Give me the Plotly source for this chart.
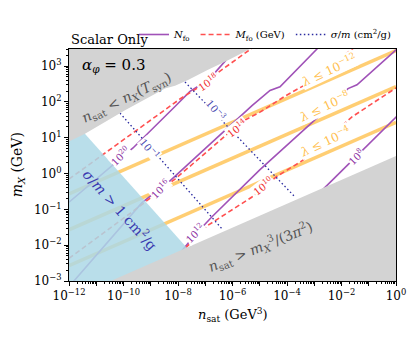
import numpy as np
import plotly.graph_objects as go

# ---------------- data: log10 n_sat [GeV^3], log10 m_X [GeV] ----------------
# lambda bounds (orange)
lam_logn = [-12.0, 0.0]
lam12_logm = [-0.57, 3.43]
lam8_logm = [-1.57, 2.43]
lam4_logm = [-2.57, 1.43]

# N_fo contours (purple, solid)
N20_logn = [-12.0, -10.385, -9.651, -8.110, -7.560, -7.009, -6.642, -5.725]
N20_logm = [-0.80, 0.240, 0.714, 1.872, 2.293, 2.556, 2.819, 3.608]
N16_logn = [-11.9, -9.321, -8.294, -5.982, -5.284, -4.624, -4.257, -2.899, -2.716]
N16_logm = [-3.07, -0.812, -0.207, 1.424, 1.898, 2.319, 2.424, 3.477, 3.609]
N12_logn = [-8.110, -7.376, -6.752, -4.991, -3.046, -1.761, -1.431, -0.037, 0.04]
N12_logm = [-2.391, -1.707, -1.207, 0.109, 1.451, 2.372, 2.477, 3.424, 3.48]
N8_logn = [-2.716, -1.321, 0.147]
N8_logm = [-0.470, 0.582, 1.687]

# M_fo contours (red, dashed)
M18_logn = [-12.0, -7.927, -7.266, -6.532, -5.284]
M18_logm = [-0.155, 2.082, 2.398, 2.819, 3.503]
M14_logn = [-12.0, -9.688, -8.110, -6.092, -5.651, -4.991, -4.073, -3.339, -1.578, -1.468]
M14_logm = [-2.365, -1.076, -0.155, 1.161, 1.451, 1.714, 2.161, 2.477, 3.477, 3.556]
M10_logn = [-7.927, -6.899, -5.284, -4.367, -3.413, -1.615, -0.037, 0.147]
M10_logm = [-2.234, -1.444, -0.655, -0.076, 0.372, 1.582, 2.372, 2.451]

# sigma/m contours (blue, dotted)
S3_logn = [-7.743, -3.706]
S3_logm = [2.556, -0.655]
S1_logn = [-10.128, -6.349]
S1_logm = [1.688, -1.576]

# region boundaries
syn_logn = [-12.0, -11.413, -9.945, -8.477, -8.110, -7.633, -6.899, -6.165, -5.431, -5.36]
syn_logm = [0.898, 1.109, 1.766, 2.372, 2.451, 2.609, 2.898, 3.161, 3.451, 3.477]
sig1_logn = [-12.0, -7.2]
sig1_logm = [1.609, -2.48]
sat_logn = [-12.0, 0.0]
sat_logm = [-3.51, 0.49]

x_ticks = list(range(-12, 1))
y_ticks = list(range(-3, 4))

SERIF = "DejaVu Serif"
PURPLE = "#a052b8"
RED = "#ff5050"
DBLUE = "#2a2aa0"
ORANGE = "rgba(255,165,0,0.55)"


def P(a):
    return 10 ** np.asarray(a, dtype=float)


fig = go.Figure()

# orange lambda lines
for lm in (lam12_logm, lam8_logm, lam4_logm):
    fig.add_trace(go.Scatter(x=P(lam_logn), y=P(lm), mode="lines",
                             line=dict(color=ORANGE, width=3.5),
                             showlegend=False, hoverinfo="skip"))

# N_fo
for i, (xn, ym) in enumerate([(N20_logn, N20_logm), (N16_logn, N16_logm),
                              (N12_logn, N12_logm), (N8_logn, N8_logm)]):
    fig.add_trace(go.Scatter(x=P(xn), y=P(ym), mode="lines",
                             line=dict(color=PURPLE, width=1.6),
                             name="<i>N</i><sub>fo</sub>", legendgroup="N",
                             showlegend=(i == 0)))
# M_fo
for i, (xn, ym) in enumerate([(M18_logn, M18_logm), (M14_logn, M14_logm),
                              (M10_logn, M10_logm)]):
    fig.add_trace(go.Scatter(x=P(xn), y=P(ym), mode="lines",
                             line=dict(color=RED, width=1.6, dash="5px,3px"),
                             name="<i>M</i><sub>fo</sub> (GeV)", legendgroup="M",
                             showlegend=(i == 0)))
# sigma/m
for i, (xn, ym) in enumerate([(S3_logn, S3_logm), (S1_logn, S1_logm)]):
    fig.add_trace(go.Scatter(x=P(xn), y=P(ym), mode="lines",
                             line=dict(color=DBLUE, width=1.3, dash="1.5px,2.5px"),
                             name="<i>σ</i>/<i>m</i> (cm<sup>2</sup>/g)", legendgroup="S",
                             showlegend=(i == 0)))

# blue region sigma/m > 1
bx = list(sig1_logn) + [sig1_logn[-1], sig1_logn[0]]
by = list(sig1_logm) + [-4.0, -4.0]
fig.add_trace(go.Scatter(x=P(bx), y=P(by), mode="lines", fill="toself",
                         fillcolor="rgba(173,216,230,0.85)", line=dict(width=0),
                         showlegend=False, hoverinfo="skip"))

# upper grey region
gx = list(syn_logn) + [-5.0, -12.5, -12.5]
gy = list(syn_logm) + [3.8, 3.8, 0.7]
fig.add_trace(go.Scatter(x=P(gx), y=P(gy), mode="lines", fill="toself",
                         fillcolor="#d3d3d3", line=dict(width=0),
                         showlegend=False, hoverinfo="skip"))
# lower grey region
lx = list(sat_logn) + [0.5, 0.5, sat_logn[0]]
ly = list(sat_logm) + [sat_logm[1], -4.5, -4.5]
fig.add_trace(go.Scatter(x=P(lx), y=P(ly), mode="lines", fill="toself",
                         fillcolor="#d3d3d3", line=dict(width=0),
                         showlegend=False, hoverinfo="skip"))

ann = []


def label(text, lx, ly, angle, color, size, bg=None, xanchor="center"):
    d = dict(x=lx, y=ly, xref="x", yref="y", text=text, showarrow=False,
             textangle=angle, font=dict(family=SERIF, size=size, color=color),
             xanchor=xanchor, yanchor="middle")
    if bg:
        d.update(bgcolor=bg, borderpad=0)
    ann.append(d)


label("10<sup>20</sup>", -10.128, 0.503, -45, "#8a2ca0", 10, "white")
label("10<sup>16</sup>", -8.661, -0.418, -45, "#8a2ca0", 10, "white")
label("10<sup>12</sup>", -7.376, -1.655, -45, "#8a2ca0", 10, "white")
label("10<sup>8</sup>", -1.468, 0.451, -45, "#8a2ca0", 10, "white")
label("10<sup>18</sup>", -6.899, 2.556, -35, "#f03030", 10, "white")
label("10<sup>14</sup>", -5.835, 1.266, -38, "#f03030", 10, "white")
label("10<sup>10</sup>", -4.881, -0.339, -38, "#f03030", 10, "white")
label("10<sup>−3</sup>", -6.606, 1.766, 50, "#4848b0", 10, "white")
label("10<sup>−1</sup>", -9.028, 0.688, 50, "#4848b0", 10, "white")
label("<i>λ</i> ≤ 10<sup>−12</sup>", -2.495, 2.898, -25, "#ffbf50", 12, "white")
label("<i>λ</i> ≤ 10<sup>−8</sup>", -2.642, 1.898, -25, "#ffbf50", 12, "white")
label("<i>λ</i> ≤ 10<sup>−4</sup>", -2.606, 0.898, -25, "#ffbf50", 12, "white")
label("<i>α</i><sub><i>φ</i></sub> = 0.3", -11.596, 3.003, 0, "black", 15, xanchor="left")
label("<i>n</i><sub>sat</sub> < <i>n</i><sub><i>X</i></sub>(<i>T</i><sub>syn</sub>)",
      -9.872, 2.109, -26, "#555555", 14)
label("<i>n</i><sub>sat</sub> > <i>m</i><sub><i>X</i></sub><sup>3</sup>/(3<i>π</i><sup>2</sup>)",
      -4.991, -2.049, -22, "#555555", 14)
label("<i>σ</i>/<i>m</i> > 1 cm<sup>2</sup>/g", -10.128, -0.997, 48, "#3a3ab0", 14)

ann.append(dict(x=0, y=1.04, xref="paper", yref="paper", xanchor="left", yanchor="middle",
                text="Scalar Only", showarrow=False,
                font=dict(family=SERIF, size=13, color="black")))
ann.append(dict(x=0.5, y=-0.146, xref="paper", yref="paper", xanchor="center", yanchor="middle",
                text="<i>n</i><sub>sat</sub> (GeV<sup>3</sup>)", showarrow=False,
                font=dict(family=SERIF, size=13, color="black")))
ann.append(dict(x=-0.155, y=0.5, xref="paper", yref="paper", xanchor="center", yanchor="middle",
                text="<i>m</i><sub><i>X</i></sub> (GeV)", showarrow=False, textangle=-90,
                font=dict(family=SERIF, size=14, color="black")))


def minor_vals(lo, hi):
    return [k * 10.0 ** d for d in range(lo, hi) for k in range(2, 10)]


def sup(k):
    return "10<sup>" + (str(k).replace("-", "−")) + "</sup>"


# the page body has an 8px default margin: shrink the figure to compensate
fig.update_layout(
    width=409, height=329,
    margin=dict(l=61, r=21, t=27, b=56),
    paper_bgcolor="white", plot_bgcolor="white",
    font=dict(family=SERIF, size=12, color="black"),
    annotations=ann,
    showlegend=True,
    legend=dict(orientation="h", x=1.0, xanchor="right", y=1.0, yanchor="bottom",
                font=dict(family=SERIF, size=10), bgcolor="rgba(0,0,0,0)",
                itemwidth=30, tracegroupgap=0),
    xaxis=dict(type="log", range=[-12, 0], showgrid=False, zeroline=False,
               showline=True, linecolor="black", linewidth=1, mirror=True,
               ticks="outside", ticklen=4, tickcolor="black",
               tickvals=[10.0 ** k for k in x_ticks],
               ticktext=[sup(k) if k % 2 == 0 else "" for k in x_ticks],
               tickfont=dict(family=SERIF, size=12),
               minor=dict(tickvals=minor_vals(-12, 0), ticks="outside", ticklen=2,
                          tickcolor="black", showgrid=False)),
    yaxis=dict(type="log", range=[-3, np.log10(3000)], showgrid=False, zeroline=False,
               showline=True, linecolor="black", linewidth=1, mirror=True,
               ticks="outside", ticklen=4, tickcolor="black",
               tickvals=[10.0 ** k for k in y_ticks],
               ticktext=[sup(k) for k in y_ticks],
               tickfont=dict(family=SERIF, size=12),
               minor=dict(tickvals=minor_vals(-3, 4), ticks="outside", ticklen=2,
                          tickcolor="black", showgrid=False)),
)

fig.write_html("out.html")
